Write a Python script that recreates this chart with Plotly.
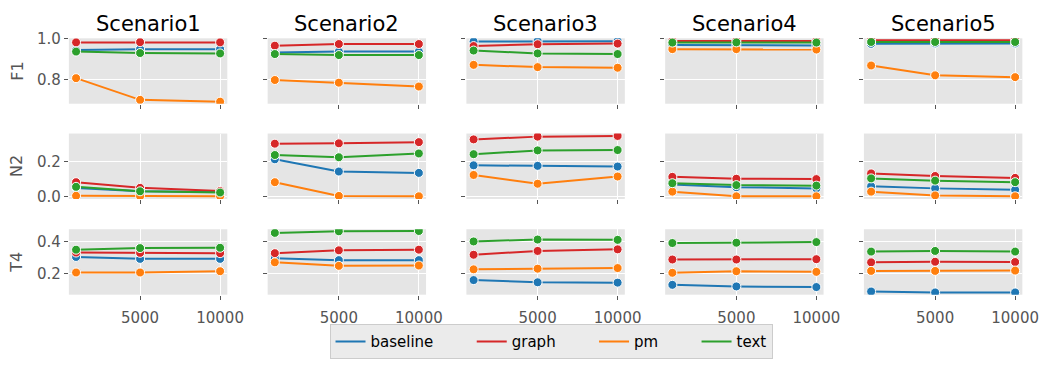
import plotly.graph_objects as go
from plotly.subplots import make_subplots

# Training-set sizes on the x axis
sizes = [1000, 5000, 10000]
scenarios = ["Scenario1", "Scenario2", "Scenario3", "Scenario4", "Scenario5"]
metrics = ["F1", "N2", "T4"]
methods = ["baseline", "graph", "pm", "text"]
colors = {"baseline": "#1f77b4", "graph": "#d62728", "pm": "#ff7f0e", "text": "#2ca02c"}

# F1 per scenario: baseline, graph, pm, text
f1_baseline = [[0.946, 0.950, 0.950], [0.933, 0.938, 0.938], [0.987, 0.989, 0.989], [0.970, 0.970, 0.968], [0.976, 0.978, 0.978]]
f1_graph = [[0.983, 0.984, 0.983], [0.967, 0.975, 0.975], [0.965, 0.974, 0.977], [0.990, 0.991, 0.990], [0.993, 0.994, 0.994]]
f1_pm = [[0.808, 0.702, 0.693], [0.799, 0.786, 0.767], [0.873, 0.862, 0.859], [0.950, 0.950, 0.948], [0.870, 0.822, 0.813]]
f1_text = [[0.938, 0.931, 0.929], [0.926, 0.921, 0.921], [0.943, 0.929, 0.926], [0.982, 0.983, 0.982], [0.985, 0.985, 0.985]]

# N2 per scenario
n2_baseline = [[0.048, 0.030, 0.025], [0.215, 0.144, 0.136], [0.180, 0.177, 0.173], [0.068, 0.053, 0.046], [0.058, 0.046, 0.038]]
n2_graph = [[0.082, 0.049, 0.031], [0.306, 0.308, 0.315], [0.331, 0.347, 0.351], [0.113, 0.102, 0.100], [0.133, 0.118, 0.107]]
n2_pm = [[0.003, 0.000, 0.000], [0.082, 0.002, 0.000], [0.124, 0.073, 0.115], [0.027, 0.000, 0.000], [0.027, 0.005, 0.000]]
n2_text = [[0.055, 0.029, 0.022], [0.240, 0.227, 0.249], [0.245, 0.267, 0.269], [0.076, 0.065, 0.062], [0.104, 0.091, 0.082]]

# T4 per scenario
t4_baseline = [[0.304, 0.292, 0.292], [0.296, 0.284, 0.284], [0.158, 0.144, 0.142], [0.128, 0.118, 0.114], [0.086, 0.080, 0.080]]
t4_graph = [[0.332, 0.330, 0.328], [0.328, 0.346, 0.350], [0.318, 0.342, 0.352], [0.288, 0.288, 0.290], [0.270, 0.274, 0.272]]
t4_pm = [[0.206, 0.206, 0.214], [0.270, 0.248, 0.250], [0.226, 0.230, 0.234], [0.204, 0.214, 0.210], [0.216, 0.216, 0.218]]
t4_text = [[0.350, 0.360, 0.362], [0.456, 0.466, 0.468], [0.402, 0.414, 0.412], [0.392, 0.394, 0.398], [0.338, 0.342, 0.338]]

data = {
    "F1": {"baseline": f1_baseline, "graph": f1_graph, "pm": f1_pm, "text": f1_text},
    "N2": {"baseline": n2_baseline, "graph": n2_graph, "pm": n2_pm, "text": n2_text},
    "T4": {"baseline": t4_baseline, "graph": t4_graph, "pm": t4_pm, "text": t4_text},
}
y_ranges = {"F1": [0.683, 1.003], "N2": [-0.0155, 0.365], "T4": [0.066, 0.479]}

W, H = 1060, 368
col_px = [(70, 231), (272, 433), (474, 635), (676, 837), (878, 1039)]
row_px = [(31.5, 99.5), (130.5, 198.5), (230, 298)]

fig = make_subplots(rows=3, cols=5)

FONT = "DejaVu Sans"
GRAY = "#555555"

for r, metric in enumerate(metrics):
    for c, scen in enumerate(scenarios):
        for m in methods:
            fig.add_trace(
                go.Scatter(
                    x=sizes,
                    y=data[metric][m][c],
                    mode="lines+markers",
                    line=dict(color=colors[m], width=2),
                    marker=dict(color=colors[m], size=9, line=dict(color="white", width=1)),
                    showlegend=False,
                    name=m,
                ),
                row=r + 1,
                col=c + 1,
            )

# line-only legend entries; trailing spacing widens the gap between entries
for i, m in enumerate(methods):
    pad = "\u00a0" * 7 if i < len(methods) - 1 else ""
    fig.add_trace(
        go.Scatter(x=[None], y=[None], mode="lines", line=dict(color=colors[m], width=2),
                   name=m + pad, showlegend=True),
        row=1, col=1,
    )

for r, metric in enumerate(metrics):
    for c in range(5):
        idx = r * 5 + c + 1
        xa = "xaxis" if idx == 1 else f"xaxis{idx}"
        ya = "yaxis" if idx == 1 else f"yaxis{idx}"
        x0, x1 = col_px[c]
        y0, y1 = row_px[r]
        fig.layout[xa].update(
            domain=[x0 / W, x1 / W],
            range=[550, 10450],
            tickvals=[5000, 10000],
            ticktext=["5000", "10000"],
            showticklabels=(r == 2),
            ticks="outside", ticklen=4, tickcolor=GRAY, tickwidth=1,
            ticklabelstandoff=5,
            showgrid=True, gridcolor="white", gridwidth=1,
            zeroline=False, showline=False,
            tickfont=dict(family=FONT, size=15, color=GRAY),
        )
        fig.layout[ya].update(
            domain=[1 - y1 / H, 1 - y0 / H],
            range=y_ranges[metric],
            dtick=0.2, tick0=0, tickformat=".1f",
            showticklabels=(c == 0),
            ticks="outside", ticklen=4, tickcolor=GRAY, tickwidth=1,
            showgrid=True, gridcolor="white", gridwidth=1,
            zeroline=False, showline=False,
            tickfont=dict(family=FONT, size=15, color=GRAY),
        )

annotations = []
for c, scen in enumerate(scenarios):
    x0, x1 = col_px[c]
    annotations.append(dict(
        text=scen, x=(x0 + x1) / 2 / W, y=1 - 17 / H, xref="paper", yref="paper",
        xanchor="center", yanchor="middle", showarrow=False,
        font=dict(family=FONT, size=21, color="black"),
    ))
for r, metric in enumerate(metrics):
    y0, y1 = row_px[r]
    annotations.append(dict(
        text=metric, x=17 / W, y=1 - (y0 + y1) / 2 / H, xref="paper", yref="paper",
        xanchor="center", yanchor="middle", showarrow=False, textangle=-90,
        font=dict(family=FONT, size=16, color=GRAY),
    ))

fig.update_layout(
    width=W, height=H,
    margin=dict(l=0, r=0, t=0, b=0),
    paper_bgcolor="white",
    plot_bgcolor="#E5E5E5",
    annotations=annotations,
    legend=dict(
        orientation="h", x=560 / W, y=1 - 347 / H, xanchor="center", yanchor="middle",
        bgcolor="#EBEBEB", bordercolor="#CCCCCC", borderwidth=1,
        font=dict(family=FONT, size=15, color="black"),
        itemwidth=30,
    ),
    font=dict(family=FONT),
)

fig.write_html("out.html")
